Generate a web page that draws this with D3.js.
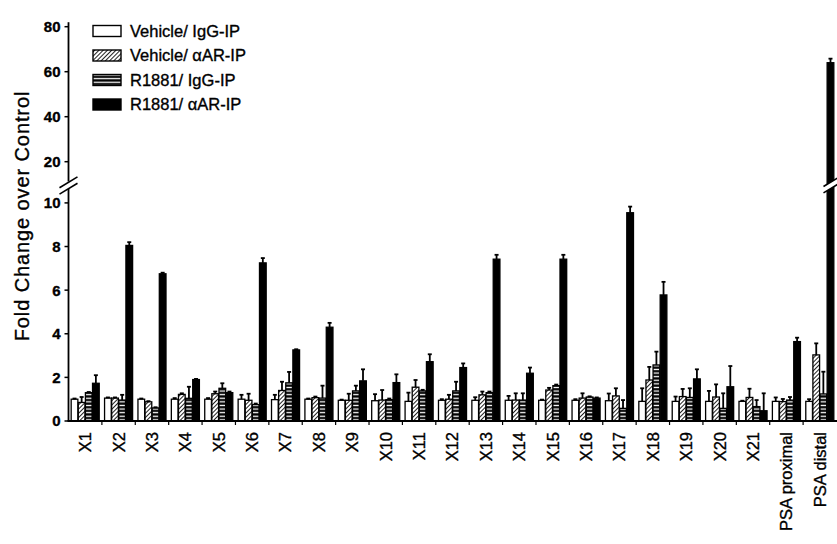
<!DOCTYPE html>
<html>
<head>
<meta charset="utf-8">
<script src="https://cdn.jsdelivr.net/npm/d3@7"></script>
<style>
  html, body { margin: 0; padding: 0; background: #fff; }
  svg { display: block; }
  text { font-family: "Liberation Sans", Arial, sans-serif; fill: #000; stroke: #000; stroke-width: 0.35px; }
</style>
</head>
<body>
<svg id="chart" width="837" height="544"></svg>
<script>
// ChIP enrichment at candidate AR binding regions
const categories = ["X1","X2","X3","X4","X5","X6","X7","X8","X9","X10","X11","X12",
  "X13","X14","X15","X16","X17","X18","X19","X20","X21","PSA proximal","PSA distal"];
const seriesNames = ["Vehicle/ IgG-IP", "Vehicle/ \u03b1AR-IP", "R1881/ IgG-IP", "R1881/ \u03b1AR-IP"];

const vehicleIgG    = [1.0, 1.05, 1.0, 1.0, 1.0, 1.0, 0.98, 1.0, 0.95, 0.93, 0.9, 0.95, 0.95, 0.95, 0.95, 0.95, 0.93, 0.9, 0.9, 0.9, 0.9, 0.9, 0.9];
const vehicleIgGErr = [0.03, 0.03, 0.03, 0.05, 0.05, 0.2, 0.22, 0.03, 0.03, 0.3, 0.4, 0.05, 0.14, 0.2, 0.03, 0.05, 0.33, 0.6, 0.22, 0.48, 0.03, 0.18, 0.1];

const vehicleAR     = [0.85, 1.05, 0.88, 1.22, 1.25, 0.95, 1.4, 1.07, 0.95, 0.96, 1.55, 1.0, 1.2, 0.96, 1.42, 1.05, 1.15, 1.88, 1.12, 1.1, 1.08, 0.89, 3.03];
const vehicleARErr  = [0.25, 0.03, 0.03, 0.05, 0.1, 0.3, 0.4, 0.05, 0.3, 0.46, 0.33, 0.2, 0.15, 0.31, 0.1, 0.22, 0.35, 0.6, 0.35, 0.58, 0.4, 0.12, 0.53];

const r1881IgG      = [1.3, 0.96, 0.6, 1.04, 1.5, 0.75, 1.75, 1.05, 1.38, 0.98, 1.38, 1.38, 1.3, 0.96, 1.62, 1.1, 0.58, 2.57, 1.08, 0.58, 0.66, 0.96, 1.24];
const r1881IgGErr   = [0.03, 0.24, 0.03, 0.53, 0.23, 0.05, 0.5, 0.57, 0.24, 0.05, 0.05, 0.42, 0.05, 0.31, 0.05, 0.03, 0.38, 0.61, 0.42, 0.69, 0.3, 0.14, 1.02];

const r1881AR       = [1.73, 8.05, 6.75, 1.9, 1.3, 7.25, 3.26, 4.3, 1.84, 1.76, 2.72, 2.45, 7.42, 2.19, 7.42, 1.05, 9.55, 5.78, 1.93, 1.57, 0.47, 3.64, 64];
const r1881ARErr    = [0.37, 0.15, 0.05, 0.03, 0.05, 0.22, 0.03, 0.2, 0.53, 0.38, 0.34, 0.19, 0.2, 0.26, 0.2, 0.03, 0.28, 0.6, 0.44, 0.95, 0.8, 0.18, 1.8];

const lowerTicks = [0, 2, 4, 6, 8, 10];
const upperTicks = [20, 40, 60, 80];

const values = [vehicleIgG, vehicleAR, r1881IgG, r1881AR];
const errors = [vehicleIgGErr, vehicleARErr, r1881IgGErr, r1881ARErr];

const svg = d3.select("#chart");
const defs = svg.append("defs");

// diagonal hatch for Vehicle/αAR-IP
const hatch = defs.append("pattern").attr("id", "hatch")
  .attr("patternUnits", "userSpaceOnUse").attr("width", 3).attr("height", 3)
  .attr("patternTransform", "rotate(45)");
hatch.append("rect").attr("width", 3).attr("height", 3).attr("fill", "#fff");
hatch.append("line").attr("x1", 0).attr("y1", 0).attr("x2", 0).attr("y2", 3)
  .attr("stroke", "#222").attr("stroke-width", 2);

// horizontal stripes for R1881/IgG-IP
const stripes = defs.append("pattern").attr("id", "stripes")
  .attr("patternUnits", "userSpaceOnUse").attr("width", 4).attr("height", 3.6);
stripes.append("rect").attr("width", 4).attr("height", 3.6).attr("fill", "#000");
stripes.append("rect").attr("y", 1.6).attr("width", 4).attr("height", 1.3).attr("fill", "#fff");

const fills = ["#fff", "url(#hatch)", "url(#stripes)", "#000"];

// layout
const axisX = 68.5;
const baseY = 421;
const xMax = 837;

const x = d3.scaleBand().domain(categories).range([axisX, 836.5])
  .paddingInner(0.16).paddingOuter(0.08);
const xs = d3.scaleBand().domain(d3.range(4)).range([0, x.bandwidth()]).paddingInner(0.06);

// broken y axis: lower and upper panels
const yLow = d3.scaleLinear().domain([0, 10.5]).range([baseY, 192]);
const yHigh = d3.scaleLinear().domain([12, 82]).range([179.7, 22.2]);
const yPos = v => v <= 10.5 ? yLow(v) : yHigh(v);
const breakY = 185.5;

// bars
const groups = svg.append("g").selectAll("g").data(categories).join("g")
  .attr("transform", d => `translate(${x(d)},0)`);

groups.each(function(cat, i) {
  const g = d3.select(this);
  for (let s = 0; s < 4; s++) {
    const v = values[s][i];
    const e = errors[s][i];
    const bx = xs(s);
    const bw = xs.bandwidth();
    g.append("rect")
      .attr("x", bx).attr("y", yPos(v))
      .attr("width", bw).attr("height", baseY - yPos(v))
      .attr("fill", fills[s]).attr("stroke", "#000").attr("stroke-width", 1.3);
    const cx = bx + bw / 2;
    g.append("line").attr("x1", cx).attr("x2", cx)
      .attr("y1", yPos(v)).attr("y2", yPos(v + e))
      .attr("stroke", "#000").attr("stroke-width", 1.8);
    g.append("line").attr("x1", cx - 2).attr("x2", cx + 2)
      .attr("y1", yPos(v + e)).attr("y2", yPos(v + e))
      .attr("stroke", "#000").attr("stroke-width", 1.8);
  }
});

// axes
const axisStroke = 1.8;
svg.append("line").attr("x1", axisX).attr("x2", axisX)
  .attr("y1", yLow(0)).attr("y2", breakY + 3)
  .attr("stroke", "#000").attr("stroke-width", axisStroke);
svg.append("line").attr("x1", axisX).attr("x2", axisX)
  .attr("y1", breakY - 4).attr("y2", yHigh(82))
  .attr("stroke", "#000").attr("stroke-width", axisStroke);
svg.append("line").attr("x1", axisX - 1).attr("x2", xMax)
  .attr("y1", baseY).attr("y2", baseY)
  .attr("stroke", "#000").attr("stroke-width", axisStroke);

// x tick marks between groups
const step = x.step();
const bounds = categories.slice(1).map(c => x(c) - (step - x.bandwidth()) / 2);
svg.append("g").selectAll("line").data(bounds).join("line")
  .attr("x1", d => d).attr("x2", d => d)
  .attr("y1", baseY).attr("y2", baseY + 4)
  .attr("stroke", "#000").attr("stroke-width", 1.2);

// y ticks and labels
function yTicks(scale, ticks) {
  const g = svg.append("g");
  g.selectAll("line").data(ticks).join("line")
    .attr("x1", axisX - 4).attr("x2", axisX)
    .attr("y1", d => scale(d)).attr("y2", d => scale(d))
    .attr("stroke", "#000").attr("stroke-width", 1.5);
  g.selectAll("text").data(ticks).join("text")
    .attr("x", axisX - 8).attr("y", d => scale(d)).attr("dy", "0.36em")
    .attr("text-anchor", "end")
    .style("font-size", "15px").style("font-weight", "bold")
    .text(d => d);
}
yTicks(yLow, lowerTicks);
yTicks(yHigh, upperTicks);

// axis break marks
function breakMark(cx, halfW, cover) {
  const dy = halfW * 0.6;
  const off = 3.2;
  if (cover) {
    svg.append("polygon")
      .attr("points", [
        [cx - halfW, breakY + dy - off], [cx + halfW, breakY - dy - off],
        [cx + halfW, breakY - dy + off], [cx - halfW, breakY + dy + off]
      ].map(p => p.join(",")).join(" "))
      .attr("fill", "#fff");
  }
  [-off, off].forEach(o => {
    svg.append("line")
      .attr("x1", cx - halfW).attr("y1", breakY + dy + o)
      .attr("x2", cx + halfW).attr("y2", breakY - dy + o)
      .attr("stroke", "#000").attr("stroke-width", 1.6);
  });
}
breakMark(axisX, 9, true);
const lastCat = categories[categories.length - 1];
breakMark(x(lastCat) + xs(3) + xs.bandwidth() / 2, 7, true);

// x labels
svg.append("g").selectAll("text").data(categories).join("text")
  .attr("transform", d => `translate(${x(d) + x.bandwidth() / 2},432) rotate(-90)`)
  .attr("dy", "0.36em")
  .attr("text-anchor", "end")
  .style("font-size", "16.5px")
  .text(d => d);

// y title
svg.append("text")
  .attr("transform", "translate(29,216) rotate(-90)")
  .attr("text-anchor", "middle")
  .style("font-size", "20px").style("letter-spacing", "0.9px")
  .text("Fold Change over Control");

// legend
const legend = svg.append("g").attr("transform", "translate(93,31)");
const rows = legend.selectAll("g").data(seriesNames).join("g")
  .attr("transform", (d, i) => `translate(0,${i * 24.5})`);
rows.append("rect").attr("x", 0).attr("y", -5.5).attr("width", 28).attr("height", 11)
  .attr("fill", (d, i) => fills[i]).attr("stroke", "#000").attr("stroke-width", 1.4);
rows.append("text").attr("x", 37).attr("y", 0).attr("dy", "0.36em")
  .style("font-size", "16.5px")
  .text(d => d);
</script>
</body>
</html>
